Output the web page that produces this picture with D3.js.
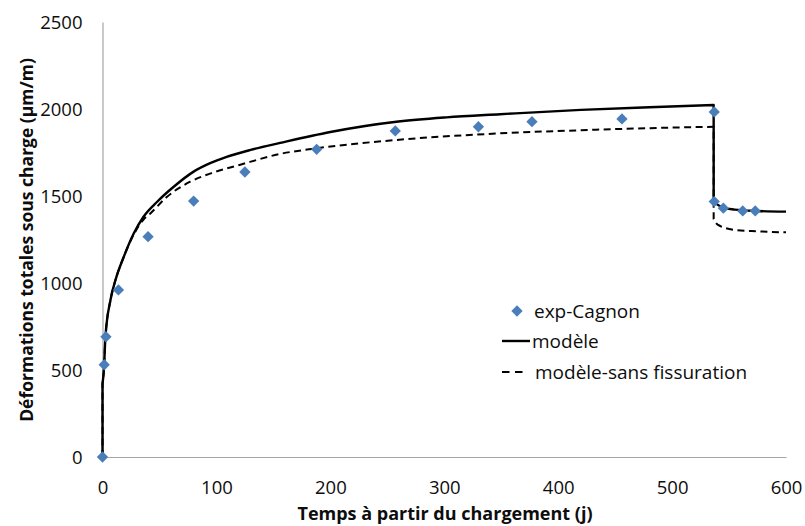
<!DOCTYPE html>
<html>
<head>
<meta charset="utf-8">
<script src="https://cdn.jsdelivr.net/npm/d3@7"></script>
<style>
  html, body { margin: 0; padding: 0; background: #fff; }
  text { font-family: "Open Sans", "DejaVu Sans", sans-serif; fill: #0d0d0d; }
</style>
</head>
<body>
<svg id="chart" width="805" height="526"></svg>
<script>
// ---- data ----
const xTicks = [0, 100, 200, 300, 400, 500, 600];
const yTicks = [0, 500, 1000, 1500, 2000, 2500];

const expT = [0, 1.5, 3, 14, 40, 80, 125, 188, 257, 330, 377, 456, 537, 537, 545, 562, 573];
const expV = [0, 530, 691, 960, 1266, 1471, 1638, 1768, 1874, 1898, 1927, 1943, 1983, 1468, 1430, 1414, 1414];

const modelT = [0, 0, 1.2, 2.6, 7, 11.4, 18.7, 27.5, 36, 48, 62.5, 80, 95, 109, 130, 156, 200, 258, 302, 349, 420, 480, 536.5, 536.5, 545, 555, 575, 600];
const modelV = [0, 420, 500, 691, 902, 1017, 1151, 1286, 1381, 1467, 1553, 1640, 1690, 1725, 1765, 1805, 1868, 1927, 1952, 1970, 1995, 2010, 2023, 1466, 1432, 1422, 1414, 1410];

const dashT = [0, 0, 1.2, 2.6, 7, 11.4, 18.7, 27.5, 36, 42, 56.7, 77, 95, 121, 156, 188, 258, 349, 420, 480, 536.5, 536.5, 540, 555, 575, 600];
const dashV = [0, 420, 500, 691, 902, 1017, 1151, 1280, 1365, 1400, 1496, 1582, 1630, 1680, 1742, 1774, 1822, 1860, 1878, 1890, 1898, 1368, 1335, 1305, 1297, 1291];

const seriesNames = ["exp-Cagnon", "modèle", "modèle-sans fissuration"];

// ---- layout ----
const svg = d3.select("#chart");
const x = d3.scaleLinear().domain([0, 600]).range([102.5, 786]);
const y = d3.scaleLinear().domain([0, 2500]).range([457, 22]);

// axes
const xAxis = d3.axisBottom(x).tickValues(xTicks).tickSize(0).tickPadding(0).tickFormat(d3.format("d"));
const yAxis = d3.axisLeft(y).tickValues(yTicks).tickSize(0).tickPadding(0).tickFormat(d3.format("d"));

const gx = svg.append("g").attr("transform", "translate(0,457)").call(xAxis);
gx.select(".domain").attr("stroke", "#a6a6a6").attr("stroke-width", 1.2);
gx.selectAll(".tick text").attr("y", 37).attr("dy", "0").style("font-size", "18.5px").style("font-family", null).attr("fill", "#0d0d0d");

const gy = svg.append("g").attr("transform", "translate(102.5,0)").call(yAxis);
gy.select(".domain").attr("stroke", "#a6a6a6").attr("stroke-width", 1.2);
gy.selectAll(".tick text").attr("x", -20).attr("dy", "0.35em").style("font-size", "18.5px").attr("fill", "#0d0d0d");
svg.selectAll(".tick text").attr("font-family", null);

// split helper: break at repeated t (vertical jumps)
function segments(ts, vs) {
  const segs = [];
  let cur = [];
  for (let i = 0; i < ts.length; i++) {
    if (i > 0 && ts[i] === ts[i - 1]) {
      segs.push({ type: "curve", pts: cur });
      segs.push({ type: "jump", pts: [[ts[i - 1], vs[i - 1]], [ts[i], vs[i]]] });
      cur = [];
    }
    cur.push([ts[i], vs[i]]);
  }
  segs.push({ type: "curve", pts: cur });
  return segs.filter(s => s.pts.length > 1);
}

function drawSeries(ts, vs, dash, width) {
  const segs = segments(ts, vs);
  let d = "";
  const curveLine = d3.line().x(p => x(p[0])).y(p => y(p[1])).curve(d3.curveMonotoneX);
  const lin = d3.line().x(p => x(p[0])).y(p => y(p[1]));
  segs.forEach((s, i) => {
    let part = s.type === "curve" ? curveLine(s.pts) : lin(s.pts);
    if (i > 0) part = part.replace(/^M[^LC]*/, "");
    if (i > 0 && !/^[LC]/.test(part)) part = "L" + part;
    d += part;
  });
  svg.append("path")
    .attr("d", d)
    .attr("fill", "none")
    .attr("stroke", "#000")
    .attr("stroke-width", width)
    .attr("stroke-dasharray", dash)
    .attr("stroke-linejoin", "round");
}

drawSeries(dashT, dashV, "7,4.5", 2);
drawSeries(modelT, modelV, null, 2.4);

// diamonds
svg.append("g").selectAll("path")
  .data(expT.map((t, i) => [t, expV[i]]))
  .join("path")
  .attr("d", d3.symbol().type(d3.symbolSquare).size(64))
  .attr("transform", d => `translate(${x(d[0])},${y(d[1])}) rotate(45)`)
  .attr("fill", "#4a7ebb");

// legend
const lg = svg.append("g");
lg.append("path")
  .attr("d", d3.symbol().type(d3.symbolSquare).size(64))
  .attr("transform", "translate(517,311) rotate(45)")
  .attr("fill", "#4a7ebb");
lg.append("text").attr("x", 534).attr("y", 311).attr("dy", "0.35em").style("font-size", "19px").text(seriesNames[0]);
lg.append("line").attr("x1", 502).attr("x2", 530).attr("y1", 341).attr("y2", 341).attr("stroke", "#000").attr("stroke-width", 2.4);
lg.append("text").attr("x", 532).attr("y", 341).attr("dy", "0.35em").style("font-size", "19px").text(seriesNames[1]);
lg.append("line").attr("x1", 502).attr("x2", 524).attr("y1", 372).attr("y2", 372).attr("stroke", "#000").attr("stroke-width", 2).attr("stroke-dasharray", "7.5,5.5");
lg.append("text").attr("x", 535).attr("y", 372).attr("dy", "0.35em").style("font-size", "19px").text(seriesNames[2]);

// axis titles
svg.append("text")
  .attr("x", 445).attr("y", 520)
  .attr("text-anchor", "middle")
  .style("font-size", "18px").style("font-weight", "bold")
  .text("Temps à partir du chargement (j)");
svg.append("text")
  .attr("transform", "translate(33,240) rotate(-90)")
  .attr("text-anchor", "middle")
  .style("font-size", "17.5px").style("font-weight", "bold")
  .text("Déformations totales sous charge (µm/m)");
</script>
</body>
</html>
